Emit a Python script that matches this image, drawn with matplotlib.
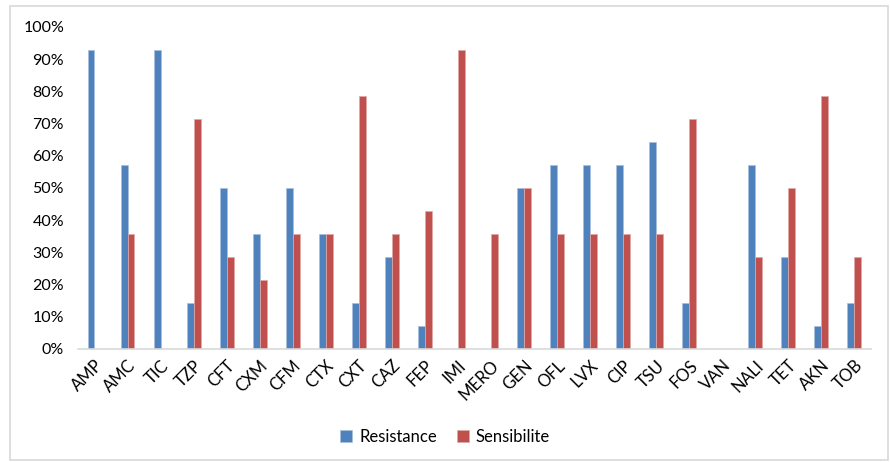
import matplotlib
matplotlib.use("Agg")
import matplotlib.pyplot as plt
from matplotlib.patches import Rectangle
from matplotlib.ticker import FuncFormatter
import numpy as np

antibiotics = ["AMP", "AMC", "TIC", "TZP", "CFT", "CXM", "CFM", "CTX", "CXT", "CAZ",
               "FEP", "IMI", "MERO", "GEN", "OFL", "LVX", "CIP", "TSU", "FOS", "VAN",
               "NALI", "TET", "AKN", "TOB"]
resistance = [92.86, 57.14, 92.86, 14.29, 50.00, 35.71, 50.00, 35.71, 14.29, 28.57,
              7.14, 0.00, 0.00, 50.00, 57.14, 57.14, 57.14, 64.29, 14.29, 0.00,
              57.14, 28.57, 7.14, 14.29]
sensibilite = [0.00, 35.71, 0.00, 71.43, 28.57, 21.43, 35.71, 35.71, 78.57, 35.71,
               42.86, 92.86, 35.71, 50.00, 35.71, 35.71, 35.71, 35.71, 71.43, 0.00,
               28.57, 50.00, 78.57, 28.57]
series_names = ["Resistance", "Sensibilite"]

BLUE = "#4F81BD"
RED = "#C0504D"

plt.rcParams["font.family"] = ["Lato", "DejaVu Sans"]

fig = plt.figure(figsize=(8.9, 4.62), dpi=100)
ax = fig.add_axes([0.0876, 0.2446, 0.891, 0.697])

x = np.arange(len(antibiotics))
w = 0.21
ax.bar(x - w / 2, resistance, w, color=BLUE, edgecolor="#A7C0DE", linewidth=0.5,
       label=series_names[0])
ax.bar(x + w / 2, sensibilite, w, color=RED, edgecolor="#E0A9A7", linewidth=0.5,
       label=series_names[1])

ax.set_xlim(-0.5, len(antibiotics) - 0.5)
ax.set_ylim(0, 100)
ax.set_yticks(np.arange(0, 101, 10))
ax.yaxis.set_major_formatter(FuncFormatter(lambda v, _: f"{int(v)}%"))
ax.set_xticks(x)
ax.set_xticklabels(antibiotics, rotation=45, ha="right", rotation_mode="anchor")

for side in ("top", "right", "left"):
    ax.spines[side].set_visible(False)
ax.spines["bottom"].set_color("#D9D9D9")
ax.spines["bottom"].set_linewidth(1.2)
ax.tick_params(axis="both", length=0, colors="black")
ax.tick_params(axis="y", pad=10, labelsize=11.5)
ax.tick_params(axis="x", pad=6, labelsize=12)

fig.legend(loc="center", bbox_to_anchor=(0.5, 0.055), ncol=2, frameon=False,
           fontsize=12, handlelength=0.75, handleheight=0.75, columnspacing=1.2,
           handletextpad=0.4)

fig.patches.append(Rectangle((10 / 890, 2 / 462), 878 / 890, 454 / 462,
                             transform=fig.transFigure, fill=False,
                             edgecolor="#D9D9D9", linewidth=1.2))

fig.savefig("out.png", dpi=100)
